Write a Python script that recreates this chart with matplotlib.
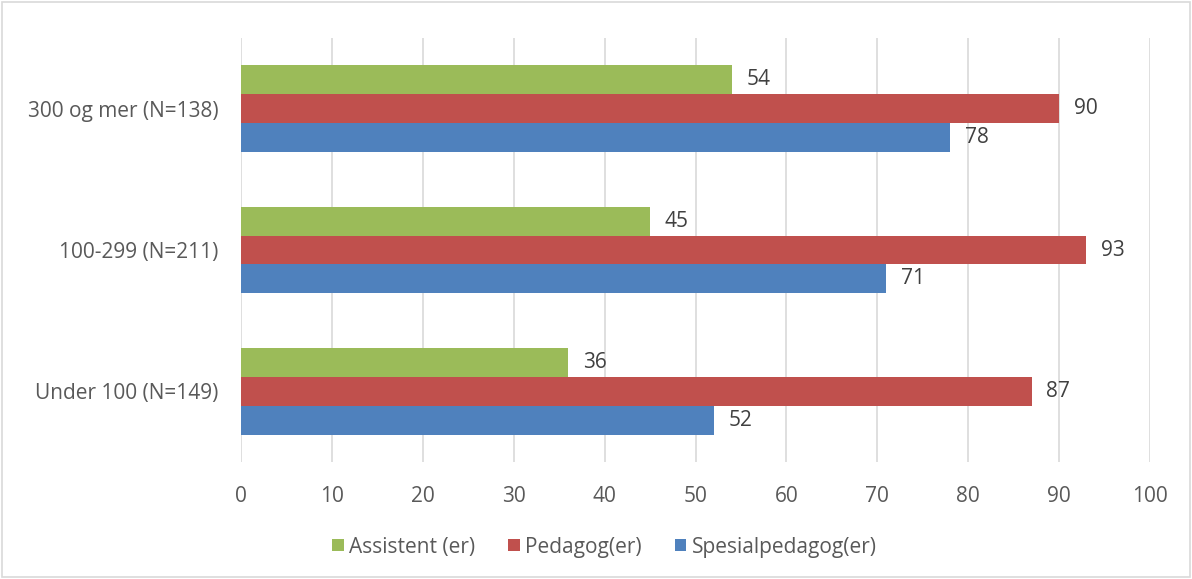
import matplotlib
matplotlib.use("Agg")
import matplotlib.pyplot as plt
from matplotlib.patches import Rectangle
import numpy as np

plt.rcParams["font.family"] = ["Open Sans", "DejaVu Sans"]

categories = ["Under 100 (N=149)", "100-299 (N=211)", "300 og mer (N=138)"]
series_names = ["Assistent (er)", "Pedagog(er)", "Spesialpedagog(er)"]
assistent = [36, 45, 54]
pedagog = [87, 93, 90]
spesialpedagog = [52, 71, 78]
colors = ["#9BBB59", "#C0504D", "#4F81BD"]
xticks = [0, 10, 20, 30, 40, 50, 60, 70, 80, 90, 100]

TEXT = "#595959"
GRID = "#D9D9D9"
FS = 15

fig = plt.figure(figsize=(11.92, 5.79), dpi=100)
ax = fig.add_axes([241 / 1192, 1 - 462 / 579, (1150 - 241) / 1192, (462 - 38) / 579])

y = np.arange(len(categories))
h = 0.205
offsets = [h, 0, -h]
for vals, off, col, name in zip([assistent, pedagog, spesialpedagog], offsets, colors, series_names):
    bars = ax.barh(y + off, vals, height=h, color=col, label=name, zorder=3)
    for b, v in zip(bars, vals):
        ax.text(v + 1.6, b.get_y() + b.get_height() / 2, str(v), va="center", ha="left",
                fontsize=FS, color="#404040")

ax.set_xlim(0, 100)
ax.set_ylim(-0.5, 2.5)
ax.set_xticks(xticks)
ax.set_yticks(y)
ax.set_yticklabels(categories)
ax.tick_params(axis="both", length=0, colors=TEXT, labelsize=FS)
ax.tick_params(axis="x", pad=17)
ax.tick_params(axis="y", pad=16)
ax.grid(axis="x", color=GRID, linewidth=1.2, zorder=0)
for s in ax.spines.values():
    s.set_visible(False)

fig.patches.append(Rectangle((0.002, 0.003), 0.996, 0.994, transform=fig.transFigure,
                             fill=False, edgecolor=GRID, linewidth=1.2))

leg = fig.legend(loc="center", bbox_to_anchor=(0.507, 1 - 547 / 579), ncol=3, frameon=False,
                 fontsize=FS, handlelength=0.55, handleheight=0.55, handletextpad=0.25,
                 columnspacing=1.6)
for t in leg.get_texts():
    t.set_color(TEXT)

fig.savefig("out.png", dpi=100)
